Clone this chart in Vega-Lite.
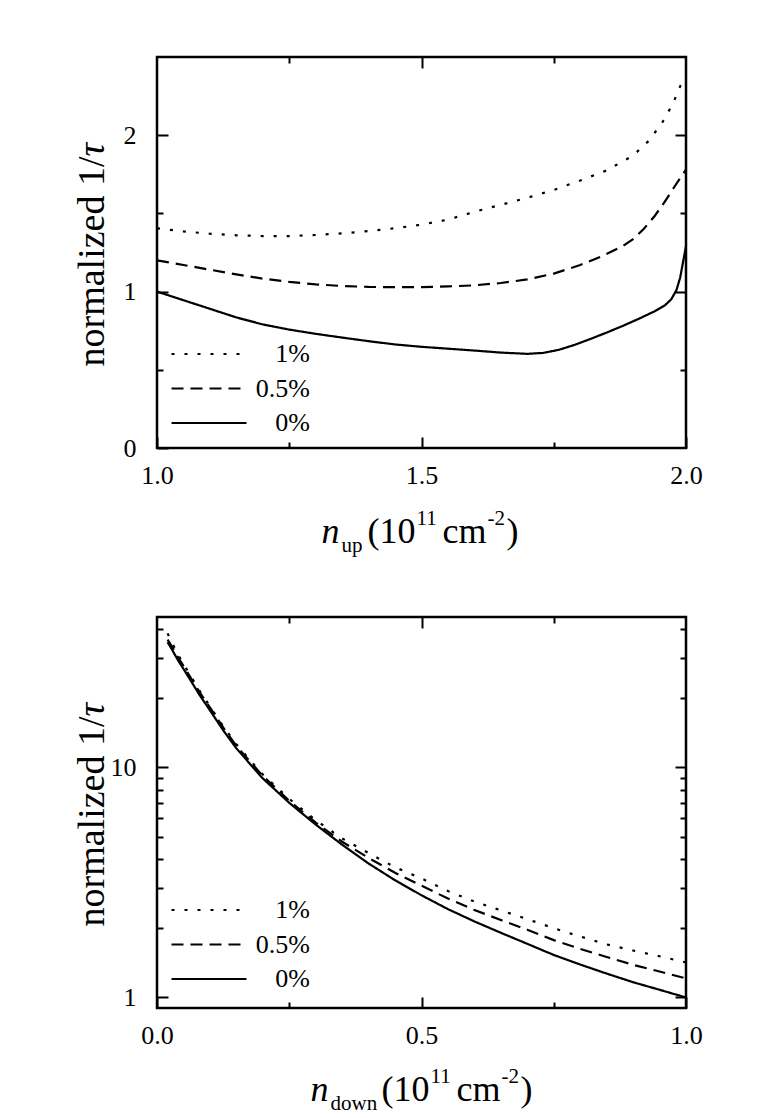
{
  "$schema": "https://vega.github.io/schema/vega-lite/v6.json",
  "padding": {"left": 71, "top": 54, "right": 0, "bottom": 0},
  "spacing": 57,
  "datasets": {
    "top": [
      {"n": 1.00, "v": 1.000, "c": "0%"}, {"n": 1.05, "v": 0.945, "c": "0%"}, {"n": 1.10, "v": 0.890, "c": "0%"},
      {"n": 1.15, "v": 0.835, "c": "0%"}, {"n": 1.20, "v": 0.790, "c": "0%"}, {"n": 1.25, "v": 0.757, "c": "0%"},
      {"n": 1.30, "v": 0.730, "c": "0%"}, {"n": 1.35, "v": 0.706, "c": "0%"}, {"n": 1.40, "v": 0.683, "c": "0%"},
      {"n": 1.45, "v": 0.662, "c": "0%"}, {"n": 1.50, "v": 0.647, "c": "0%"}, {"n": 1.55, "v": 0.635, "c": "0%"},
      {"n": 1.60, "v": 0.623, "c": "0%"}, {"n": 1.65, "v": 0.610, "c": "0%"}, {"n": 1.70, "v": 0.602, "c": "0%"},
      {"n": 1.73, "v": 0.608, "c": "0%"}, {"n": 1.76, "v": 0.628, "c": "0%"}, {"n": 1.79, "v": 0.660, "c": "0%"},
      {"n": 1.82, "v": 0.698, "c": "0%"}, {"n": 1.85, "v": 0.738, "c": "0%"}, {"n": 1.88, "v": 0.780, "c": "0%"},
      {"n": 1.91, "v": 0.825, "c": "0%"}, {"n": 1.94, "v": 0.873, "c": "0%"}, {"n": 1.96, "v": 0.912, "c": "0%"},
      {"n": 1.972, "v": 0.950, "c": "0%"}, {"n": 1.982, "v": 1.010, "c": "0%"}, {"n": 1.989, "v": 1.090, "c": "0%"},
      {"n": 1.995, "v": 1.200, "c": "0%"}, {"n": 2.00, "v": 1.290, "c": "0%"},

      {"n": 1.00, "v": 1.200, "c": "0.5%"}, {"n": 1.05, "v": 1.170, "c": "0.5%"}, {"n": 1.10, "v": 1.140, "c": "0.5%"},
      {"n": 1.15, "v": 1.110, "c": "0.5%"}, {"n": 1.20, "v": 1.083, "c": "0.5%"}, {"n": 1.25, "v": 1.062, "c": "0.5%"},
      {"n": 1.30, "v": 1.046, "c": "0.5%"}, {"n": 1.35, "v": 1.036, "c": "0.5%"}, {"n": 1.40, "v": 1.030, "c": "0.5%"},
      {"n": 1.45, "v": 1.028, "c": "0.5%"}, {"n": 1.50, "v": 1.029, "c": "0.5%"}, {"n": 1.55, "v": 1.033, "c": "0.5%"},
      {"n": 1.60, "v": 1.040, "c": "0.5%"}, {"n": 1.65, "v": 1.055, "c": "0.5%"}, {"n": 1.70, "v": 1.078, "c": "0.5%"},
      {"n": 1.75, "v": 1.115, "c": "0.5%"}, {"n": 1.80, "v": 1.170, "c": "0.5%"}, {"n": 1.84, "v": 1.225, "c": "0.5%"},
      {"n": 1.88, "v": 1.290, "c": "0.5%"}, {"n": 1.90, "v": 1.335, "c": "0.5%"}, {"n": 1.92, "v": 1.400, "c": "0.5%"},
      {"n": 1.94, "v": 1.480, "c": "0.5%"}, {"n": 1.96, "v": 1.575, "c": "0.5%"}, {"n": 1.98, "v": 1.680, "c": "0.5%"},
      {"n": 2.00, "v": 1.780, "c": "0.5%"},

      {"n": 1.00, "v": 1.405, "c": "1%"}, {"n": 1.05, "v": 1.385, "c": "1%"}, {"n": 1.10, "v": 1.370, "c": "1%"},
      {"n": 1.15, "v": 1.360, "c": "1%"}, {"n": 1.20, "v": 1.355, "c": "1%"}, {"n": 1.25, "v": 1.355, "c": "1%"},
      {"n": 1.30, "v": 1.362, "c": "1%"}, {"n": 1.35, "v": 1.372, "c": "1%"}, {"n": 1.40, "v": 1.387, "c": "1%"},
      {"n": 1.45, "v": 1.405, "c": "1%"}, {"n": 1.50, "v": 1.428, "c": "1%"}, {"n": 1.55, "v": 1.460, "c": "1%"},
      {"n": 1.60, "v": 1.510, "c": "1%"}, {"n": 1.65, "v": 1.555, "c": "1%"}, {"n": 1.70, "v": 1.600, "c": "1%"},
      {"n": 1.75, "v": 1.650, "c": "1%"}, {"n": 1.80, "v": 1.710, "c": "1%"}, {"n": 1.85, "v": 1.775, "c": "1%"},
      {"n": 1.90, "v": 1.870, "c": "1%"}, {"n": 1.93, "v": 1.965, "c": "1%"}, {"n": 1.955, "v": 2.080, "c": "1%"},
      {"n": 1.975, "v": 2.200, "c": "1%"}, {"n": 1.99, "v": 2.320, "c": "1%"}, {"n": 2.00, "v": 2.380, "c": "1%"}
    ],
    "bottom": [
      {"n": 0.02, "v": 35.0, "c": "0%"}, {"n": 0.03, "v": 32.0, "c": "0%"}, {"n": 0.04, "v": 29.1, "c": "0%"},
      {"n": 0.05, "v": 26.8, "c": "0%"}, {"n": 0.06, "v": 24.6, "c": "0%"}, {"n": 0.08, "v": 20.7, "c": "0%"},
      {"n": 0.10, "v": 17.7, "c": "0%"}, {"n": 0.125, "v": 14.5, "c": "0%"}, {"n": 0.15, "v": 12.1, "c": "0%"},
      {"n": 0.175, "v": 10.4, "c": "0%"}, {"n": 0.20, "v": 8.95, "c": "0%"}, {"n": 0.25, "v": 7.01, "c": "0%"},
      {"n": 0.30, "v": 5.64, "c": "0%"}, {"n": 0.35, "v": 4.61, "c": "0%"}, {"n": 0.40, "v": 3.82, "c": "0%"},
      {"n": 0.45, "v": 3.23, "c": "0%"}, {"n": 0.50, "v": 2.78, "c": "0%"}, {"n": 0.55, "v": 2.42, "c": "0%"},
      {"n": 0.60, "v": 2.14, "c": "0%"}, {"n": 0.65, "v": 1.91, "c": "0%"}, {"n": 0.70, "v": 1.71, "c": "0%"},
      {"n": 0.75, "v": 1.53, "c": "0%"}, {"n": 0.80, "v": 1.39, "c": "0%"}, {"n": 0.85, "v": 1.27, "c": "0%"},
      {"n": 0.90, "v": 1.165, "c": "0%"}, {"n": 0.95, "v": 1.08, "c": "0%"}, {"n": 1.00, "v": 1.00, "c": "0%"},

      {"n": 0.02, "v": 35.9, "c": "0.5%"}, {"n": 0.03, "v": 33.0, "c": "0.5%"}, {"n": 0.04, "v": 30.0, "c": "0.5%"},
      {"n": 0.05, "v": 27.6, "c": "0.5%"}, {"n": 0.06, "v": 25.3, "c": "0.5%"}, {"n": 0.08, "v": 21.3, "c": "0.5%"},
      {"n": 0.10, "v": 18.2, "c": "0.5%"}, {"n": 0.125, "v": 14.9, "c": "0.5%"}, {"n": 0.15, "v": 12.4, "c": "0.5%"},
      {"n": 0.175, "v": 10.66, "c": "0.5%"}, {"n": 0.20, "v": 9.17, "c": "0.5%"}, {"n": 0.25, "v": 7.15, "c": "0.5%"},
      {"n": 0.30, "v": 5.75, "c": "0.5%"}, {"n": 0.35, "v": 4.75, "c": "0.5%"}, {"n": 0.40, "v": 4.04, "c": "0.5%"},
      {"n": 0.45, "v": 3.48, "c": "0.5%"}, {"n": 0.50, "v": 3.06, "c": "0.5%"}, {"n": 0.55, "v": 2.69, "c": "0.5%"},
      {"n": 0.60, "v": 2.40, "c": "0.5%"}, {"n": 0.65, "v": 2.17, "c": "0.5%"}, {"n": 0.70, "v": 1.97, "c": "0.5%"},
      {"n": 0.75, "v": 1.775, "c": "0.5%"}, {"n": 0.80, "v": 1.626, "c": "0.5%"}, {"n": 0.85, "v": 1.50, "c": "0.5%"},
      {"n": 0.90, "v": 1.386, "c": "0.5%"}, {"n": 0.95, "v": 1.296, "c": "0.5%"}, {"n": 1.00, "v": 1.21, "c": "0.5%"},

      {"n": 0.02, "v": 38.2, "c": "1%"}, {"n": 0.03, "v": 34.2, "c": "1%"}, {"n": 0.04, "v": 30.8, "c": "1%"},
      {"n": 0.05, "v": 28.1, "c": "1%"}, {"n": 0.06, "v": 25.8, "c": "1%"}, {"n": 0.08, "v": 21.6, "c": "1%"},
      {"n": 0.10, "v": 18.4, "c": "1%"}, {"n": 0.125, "v": 15.1, "c": "1%"}, {"n": 0.15, "v": 12.6, "c": "1%"},
      {"n": 0.175, "v": 10.8, "c": "1%"}, {"n": 0.20, "v": 9.31, "c": "1%"}, {"n": 0.25, "v": 7.29, "c": "1%"},
      {"n": 0.30, "v": 5.89, "c": "1%"}, {"n": 0.35, "v": 4.91, "c": "1%"}, {"n": 0.40, "v": 4.24, "c": "1%"},
      {"n": 0.45, "v": 3.68, "c": "1%"}, {"n": 0.50, "v": 3.29, "c": "1%"}, {"n": 0.55, "v": 2.90, "c": "1%"},
      {"n": 0.60, "v": 2.61, "c": "1%"}, {"n": 0.65, "v": 2.39, "c": "1%"}, {"n": 0.70, "v": 2.19, "c": "1%"},
      {"n": 0.75, "v": 2.00, "c": "1%"}, {"n": 0.80, "v": 1.84, "c": "1%"}, {"n": 0.85, "v": 1.70, "c": "1%"},
      {"n": 0.90, "v": 1.60, "c": "1%"}, {"n": 0.95, "v": 1.51, "c": "1%"}, {"n": 1.00, "v": 1.42, "c": "1%"}
    ]
  },
  "resolve": {"scale": {"strokeDash": "independent"}, "legend": {"strokeDash": "independent"}},
  "vconcat": [
    {
      "width": 529,
      "height": 391,
      "data": {"name": "top"},
      "resolve": {"axis": {"x": "independent", "y": "independent"}},
      "layer": [
        {
          "mark": {"type": "line", "color": "black", "strokeWidth": 2.2},
          "encoding": {
            "x": {"field": "n", "type": "quantitative", "scale": {"domain": [1, 2]},
              "axis": {"orient": "bottom", "values": [1, 1.5, 2], "format": ".1f", "tickSize": -11, "labelPadding": 25,
                "title": "n", "titleFontStyle": "italic", "titleX": 164, "titleY": 94, "titleAlign": "left", "titleBaseline": "alphabetic", "titleAngle": 0}},
            "y": {"field": "v", "type": "quantitative", "scale": {"domain": [0, 2.5]},
              "axis": {"orient": "left", "values": [0, 1, 2], "format": "d", "tickSize": -11, "labelPadding": 32,
                "title": "normalized 1/", "titleFontSize": 38, "titleX": -54, "titleY": 309, "titleAlign": "left", "titleBaseline": "alphabetic", "titleAngle": -90}},
            "strokeDash": {"field": "c", "type": "nominal",
              "scale": {"domain": ["1%", "0.5%", "0%"], "range": [[3, 10], [12, 7], [1, 0]]},
              "legend": {"orient": "none", "legendX": 9, "legendY": 284}}
          }
        },
        {
          "mark": {"type": "point", "opacity": 0},
          "encoding": {
            "x": {"field": "n", "type": "quantitative", "scale": {"domain": [1, 2]},
              "axis": {"orient": "bottom", "values": [1.25, 1.75], "tickSize": -6, "labels": false,
                "title": "up", "titleFontSize": 21, "titleX": 184, "titleY": 103, "titleAlign": "left", "titleBaseline": "alphabetic", "titleAngle": 0}},
            "y": {"field": "v", "type": "quantitative", "scale": {"domain": [0, 2.5]},
              "axis": {"orient": "left", "values": [0.5, 1.5], "tickSize": -6, "labels": false,
                "title": "τ", "titleFontStyle": "italic", "titleFontSize": 38, "titleX": -54, "titleY": 99, "titleAlign": "left", "titleBaseline": "alphabetic", "titleAngle": -90}}
          }
        },
        {
          "mark": {"type": "point", "opacity": 0},
          "encoding": {
            "x": {"field": "n", "type": "quantitative", "scale": {"domain": [1, 2]},
              "axis": {"orient": "top", "values": [1.5], "tickSize": -11, "labels": false, "title": null}},
            "y": {"field": "v", "type": "quantitative", "scale": {"domain": [0, 2.5]},
              "axis": {"orient": "right", "values": [1, 2], "tickSize": -11, "labels": false, "title": null}}
          }
        },
        {
          "mark": {"type": "point", "opacity": 0},
          "encoding": {
            "x": {"field": "n", "type": "quantitative", "scale": {"domain": [1, 2]},
              "axis": {"orient": "top", "values": [1.25, 1.75], "tickSize": -6, "labels": false, "title": null}},
            "y": {"field": "v", "type": "quantitative", "scale": {"domain": [0, 2.5]},
              "axis": {"orient": "right", "values": [0.5, 1.5], "tickSize": -6, "labels": false, "title": null}}
          }
        },
        {
          "mark": {"type": "point", "opacity": 0},
          "encoding": {
            "x": {"field": "n", "type": "quantitative", "scale": {"domain": [1, 2]},
              "axis": {"orient": "bottom", "ticks": false, "labels": false, "title": "(10", "titleX": 210, "titleY": 94, "titleAlign": "left", "titleBaseline": "alphabetic", "titleAngle": 0}},
            "y": {"field": "v", "type": "quantitative", "scale": {"domain": [0, 2.5]}, "axis": null}
          }
        },
        {
          "mark": {"type": "point", "opacity": 0},
          "encoding": {
            "x": {"field": "n", "type": "quantitative", "scale": {"domain": [1, 2]},
              "axis": {"orient": "bottom", "ticks": false, "labels": false, "title": "11", "titleFontSize": 21, "titleX": 259, "titleY": 76, "titleAlign": "left", "titleBaseline": "alphabetic", "titleAngle": 0}},
            "y": {"field": "v", "type": "quantitative", "scale": {"domain": [0, 2.5]}, "axis": null}
          }
        },
        {
          "mark": {"type": "point", "opacity": 0},
          "encoding": {
            "x": {"field": "n", "type": "quantitative", "scale": {"domain": [1, 2]},
              "axis": {"orient": "bottom", "ticks": false, "labels": false, "title": "cm", "titleX": 285, "titleY": 94, "titleAlign": "left", "titleBaseline": "alphabetic", "titleAngle": 0}},
            "y": {"field": "v", "type": "quantitative", "scale": {"domain": [0, 2.5]}, "axis": null}
          }
        },
        {
          "mark": {"type": "point", "opacity": 0},
          "encoding": {
            "x": {"field": "n", "type": "quantitative", "scale": {"domain": [1, 2]},
              "axis": {"orient": "bottom", "ticks": false, "labels": false, "title": "-2", "titleFontSize": 21, "titleX": 330, "titleY": 76, "titleAlign": "left", "titleBaseline": "alphabetic", "titleAngle": 0}},
            "y": {"field": "v", "type": "quantitative", "scale": {"domain": [0, 2.5]}, "axis": null}
          }
        },
        {
          "mark": {"type": "point", "opacity": 0},
          "encoding": {
            "x": {"field": "n", "type": "quantitative", "scale": {"domain": [1, 2]},
              "axis": {"orient": "bottom", "ticks": false, "labels": false, "title": ")", "titleX": 349, "titleY": 94, "titleAlign": "left", "titleBaseline": "alphabetic", "titleAngle": 0}},
            "y": {"field": "v", "type": "quantitative", "scale": {"domain": [0, 2.5]}, "axis": null}
          }
        }
      ]
    },
    {
      "width": 529,
      "height": 391,
      "data": {"name": "bottom"},
      "resolve": {"axis": {"x": "independent", "y": "independent"}},
      "layer": [
        {
          "mark": {"type": "line", "color": "black", "strokeWidth": 2.2},
          "encoding": {
            "x": {"field": "n", "type": "quantitative", "scale": {"domain": [0, 1]},
              "axis": {"orient": "bottom", "values": [0, 0.5, 1], "format": ".1f", "tickSize": -11, "labelPadding": 25,
                "title": "n", "titleFontStyle": "italic", "titleX": 153, "titleY": 92, "titleAlign": "left", "titleBaseline": "alphabetic", "titleAngle": 0}},
            "y": {"field": "v", "type": "quantitative", "scale": {"type": "log", "domain": [0.9, 45]},
              "axis": {"orient": "left", "values": [1, 10], "format": "d", "tickSize": -11, "labelPadding": 32,
                "title": "normalized 1/", "titleFontSize": 38, "titleX": -54, "titleY": 309, "titleAlign": "left", "titleBaseline": "alphabetic", "titleAngle": -90}},
            "strokeDash": {"field": "c", "type": "nominal",
              "scale": {"domain": ["1%", "0.5%", "0%"], "range": [[3, 10], [12, 7], [1, 0]]},
              "legend": {"orient": "none", "legendX": 9, "legendY": 280}}
          }
        },
        {
          "mark": {"type": "point", "opacity": 0},
          "encoding": {
            "x": {"field": "n", "type": "quantitative", "scale": {"domain": [0, 1]},
              "axis": {"orient": "bottom", "values": [0.25, 0.75], "tickSize": -6, "labels": false,
                "title": "down", "titleFontSize": 21, "titleX": 173, "titleY": 101, "titleAlign": "left", "titleBaseline": "alphabetic", "titleAngle": 0}},
            "y": {"field": "v", "type": "quantitative", "scale": {"type": "log", "domain": [0.9, 45]},
              "axis": {"orient": "left", "values": [2, 3, 4, 5, 6, 7, 8, 9, 20, 30, 40], "tickSize": -6, "labels": false,
                "title": "τ", "titleFontStyle": "italic", "titleFontSize": 38, "titleX": -54, "titleY": 99, "titleAlign": "left", "titleBaseline": "alphabetic", "titleAngle": -90}}
          }
        },
        {
          "mark": {"type": "point", "opacity": 0},
          "encoding": {
            "x": {"field": "n", "type": "quantitative", "scale": {"domain": [0, 1]},
              "axis": {"orient": "top", "values": [0.5], "tickSize": -11, "labels": false, "title": null}},
            "y": {"field": "v", "type": "quantitative", "scale": {"type": "log", "domain": [0.9, 45]},
              "axis": {"orient": "right", "values": [1, 10], "tickSize": -11, "labels": false, "title": null}}
          }
        },
        {
          "mark": {"type": "point", "opacity": 0},
          "encoding": {
            "x": {"field": "n", "type": "quantitative", "scale": {"domain": [0, 1]},
              "axis": {"orient": "top", "values": [0.25, 0.75], "tickSize": -6, "labels": false, "title": null}},
            "y": {"field": "v", "type": "quantitative", "scale": {"type": "log", "domain": [0.9, 45]},
              "axis": {"orient": "right", "values": [2, 3, 4, 5, 6, 7, 8, 9, 20, 30, 40], "tickSize": -6, "labels": false, "title": null}}
          }
        },
        {
          "mark": {"type": "point", "opacity": 0},
          "encoding": {
            "x": {"field": "n", "type": "quantitative", "scale": {"domain": [0, 1]},
              "axis": {"orient": "bottom", "ticks": false, "labels": false, "title": "(10", "titleX": 224, "titleY": 92, "titleAlign": "left", "titleBaseline": "alphabetic", "titleAngle": 0}},
            "y": {"field": "v", "type": "quantitative", "scale": {"type": "log", "domain": [0.9, 45]}, "axis": null}
          }
        },
        {
          "mark": {"type": "point", "opacity": 0},
          "encoding": {
            "x": {"field": "n", "type": "quantitative", "scale": {"domain": [0, 1]},
              "axis": {"orient": "bottom", "ticks": false, "labels": false, "title": "11", "titleFontSize": 21, "titleX": 273, "titleY": 74, "titleAlign": "left", "titleBaseline": "alphabetic", "titleAngle": 0}},
            "y": {"field": "v", "type": "quantitative", "scale": {"type": "log", "domain": [0.9, 45]}, "axis": null}
          }
        },
        {
          "mark": {"type": "point", "opacity": 0},
          "encoding": {
            "x": {"field": "n", "type": "quantitative", "scale": {"domain": [0, 1]},
              "axis": {"orient": "bottom", "ticks": false, "labels": false, "title": "cm", "titleX": 299, "titleY": 92, "titleAlign": "left", "titleBaseline": "alphabetic", "titleAngle": 0}},
            "y": {"field": "v", "type": "quantitative", "scale": {"type": "log", "domain": [0.9, 45]}, "axis": null}
          }
        },
        {
          "mark": {"type": "point", "opacity": 0},
          "encoding": {
            "x": {"field": "n", "type": "quantitative", "scale": {"domain": [0, 1]},
              "axis": {"orient": "bottom", "ticks": false, "labels": false, "title": "-2", "titleFontSize": 21, "titleX": 344, "titleY": 74, "titleAlign": "left", "titleBaseline": "alphabetic", "titleAngle": 0}},
            "y": {"field": "v", "type": "quantitative", "scale": {"type": "log", "domain": [0.9, 45]}, "axis": null}
          }
        },
        {
          "mark": {"type": "point", "opacity": 0},
          "encoding": {
            "x": {"field": "n", "type": "quantitative", "scale": {"domain": [0, 1]},
              "axis": {"orient": "bottom", "ticks": false, "labels": false, "title": ")", "titleX": 363, "titleY": 92, "titleAlign": "left", "titleBaseline": "alphabetic", "titleAngle": 0}},
            "y": {"field": "v", "type": "quantitative", "scale": {"type": "log", "domain": [0.9, 45]}, "axis": null}
          }
        }
      ]
    }
  ],
  "config": {
    "font": "Liberation Serif, Times New Roman, DejaVu Serif, serif",
    "background": "white",
    "view": {"stroke": "black", "strokeWidth": 2.5},
    "axis": {
      "domain": false, "grid": false, "tickColor": "black", "tickWidth": 2,
      "labelFont": "Liberation Serif, Times New Roman, DejaVu Serif, serif", "labelFontSize": 26, "labelColor": "black", "labelFlush": false,
      "titleFont": "Liberation Serif, Times New Roman, DejaVu Serif, serif", "titleFontSize": 36, "titleFontWeight": "normal", "titleColor": "black"
    },
    "legend": {
      "title": null, "symbolType": "M-1,0H9", "symbolSize": 225, "symbolStrokeWidth": 2.2, "symbolStrokeColor": "black",
      "labelFont": "Liberation Serif, Times New Roman, DejaVu Serif, serif", "labelFontSize": 26, "labelColor": "black", "labelAlign": "right", "labelOffset": 118,
      "rowPadding": 8.5, "padding": 0
    }
  }
}
